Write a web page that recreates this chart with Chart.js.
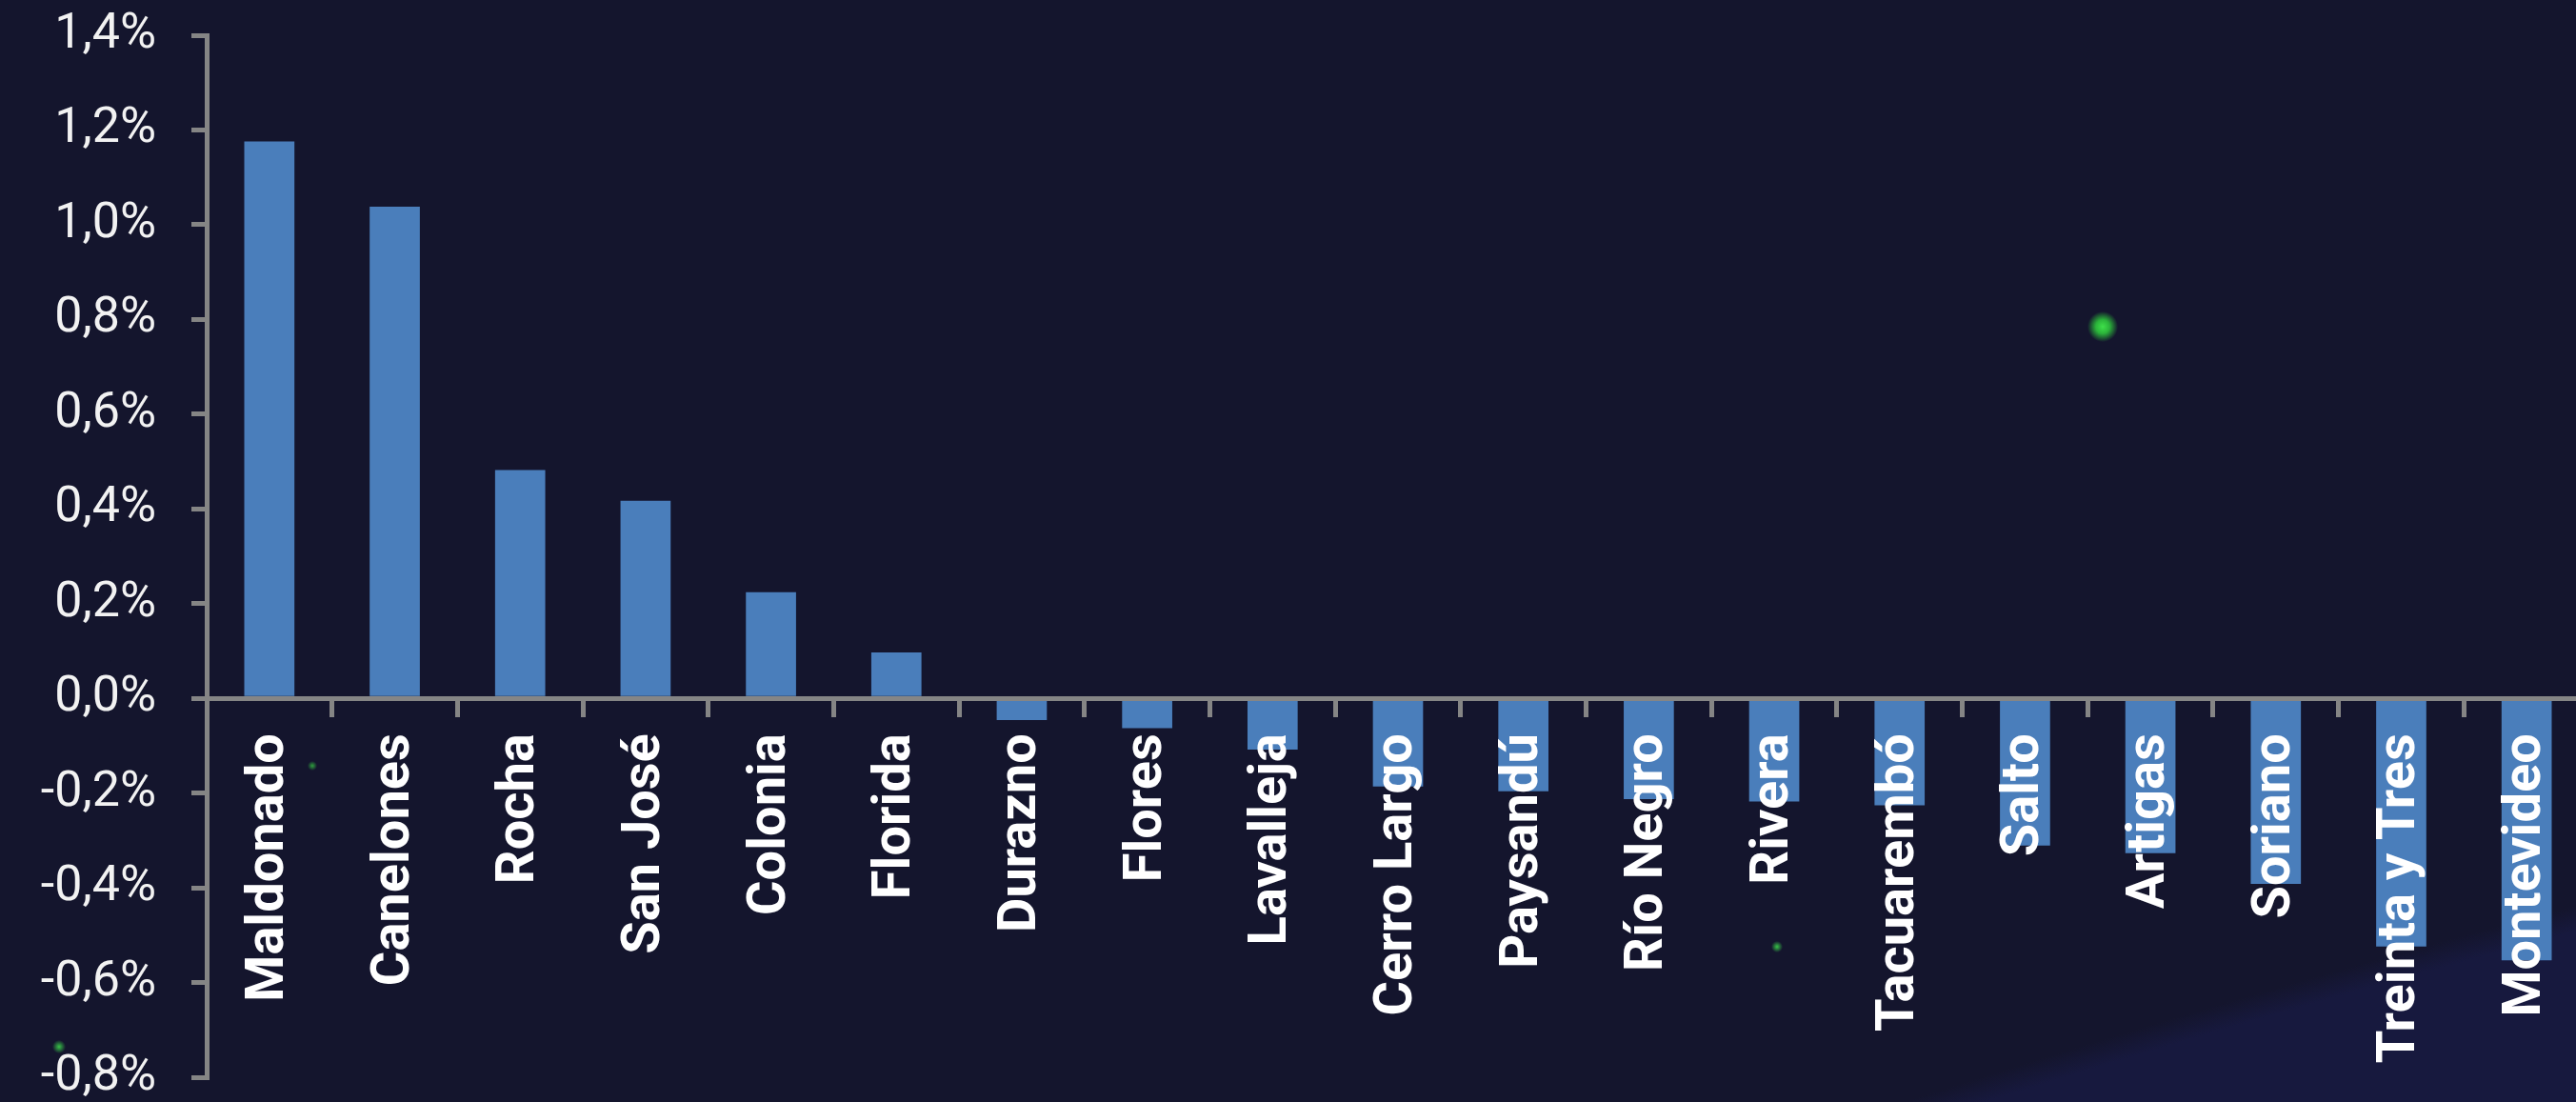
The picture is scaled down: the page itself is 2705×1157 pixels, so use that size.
<!DOCTYPE html>
<html>
<head>
<meta charset="utf-8">
<script src="https://cdn.jsdelivr.net/npm/chart.js@4"></script>
<style>
  html, body {
    margin: 0;
    padding: 0;
    width: 2705px;
    height: 1157px;
    overflow: hidden;
  }
  body {
    background:
      radial-gradient(circle 16px at 2208px 343px, #3fe04a 0, #2bb43a 45%, rgba(20, 21, 45, 0) 100%),
      radial-gradient(circle 7px at 62px 1099px, #37c247 0, rgba(20, 21, 45, 0) 100%),
      radial-gradient(circle 6px at 1866px 994px, #37c247 0, rgba(20, 21, 45, 0) 100%),
      radial-gradient(circle 5px at 328px 804px, #2f9f3e 0, rgba(20, 21, 45, 0) 100%),
      radial-gradient(circle 13005px at 5995px 13533px, #17193e 0, #17193e 99.8%, rgba(20, 21, 45, 0) 100%),
      #14152d;
  }
  #chart {
    position: absolute;
    left: 0;
    top: 0;
  }
</style>
</head>
<body>
<canvas id="chart" width="2720" height="1157"></canvas>
<script>
// Data (percent).
const departments = [
  'Maldonado', 'Canelones', 'Rocha', 'San José', 'Colonia', 'Florida',
  'Durazno', 'Flores', 'Lavalleja', 'Cerro Largo', 'Paysandú', 'Río Negro',
  'Rivera', 'Tacuarembó', 'Salto', 'Artigas', 'Soriano', 'Treinta y Tres',
  'Montevideo',
];
const variation = [
  1.176, 1.038, 0.482, 0.417, 0.224, 0.097,
  -0.046, -0.063, -0.108, -0.186, -0.196, -0.213,
  -0.218, -0.226, -0.311, -0.327, -0.392, -0.524,
  -0.553,
];
const yMin = -0.8;
const yMax = 1.4;
const yStep = 0.2;

const axisGray = '#858585';

function pctLabel(v) {
  if (Math.abs(v) < 1e-9) {
    v = 0;
  }
  return v.toFixed(1).replace('.', ',') + '%';
}

const ctx = document.getElementById('chart').getContext('2d');
new Chart(ctx, {
  type: 'bar',
  data: {
    labels: departments,
    datasets: [{
      data: variation,
      backgroundColor: '#4a7ebb',
      borderWidth: 0,
      barPercentage: 0.4,
      categoryPercentage: 1.0,
    }],
  },
  options: {
    responsive: false,
    devicePixelRatio: 1,
    animation: false,
    layout: {padding: {top: 37, bottom: 26, left: 0, right: 1}},
    plugins: {
      legend: {display: false},
      tooltip: {enabled: false},
    },
    scales: {
      x: {
        position: {y: 0},
        grid: {
          offset: true,
          drawOnChartArea: false,
          drawTicks: true,
          tickLength: 17,
          color: axisGray,
          lineWidth: 5,
        },
        // axis line and labels go over the bars
        border: {display: true, color: axisGray, width: 5, z: 1},
        ticks: {
          z: 2,
          autoSkip: false,
          minRotation: 90,
          maxRotation: 90,
          padding: 20,
          color: '#ffffff',
          font: {family: 'Roboto', size: 56, weight: 'bold'},
        },
        afterFit: (scale) => {
          scale.paddingLeft = 0;
          scale.paddingRight = 0;
        },
      },
      y: {
        min: yMin,
        max: yMax,
        grid: {
          drawOnChartArea: false,
          drawTicks: true,
          tickLength: 16,
          color: axisGray,
          lineWidth: 5,
        },
        border: {display: true, color: axisGray, width: 5},
        ticks: {
          stepSize: yStep,
          padding: 37,
          color: '#f2f2f2',
          font: {family: 'Roboto', size: 52},
          callback: (v) => pctLabel(v),
        },
        afterFit: (scale) => {
          scale.width = 217;
          scale.paddingTop = 0;
          scale.paddingBottom = 0;
        },
      },
    },
  },
});
</script>
</body>
</html>
